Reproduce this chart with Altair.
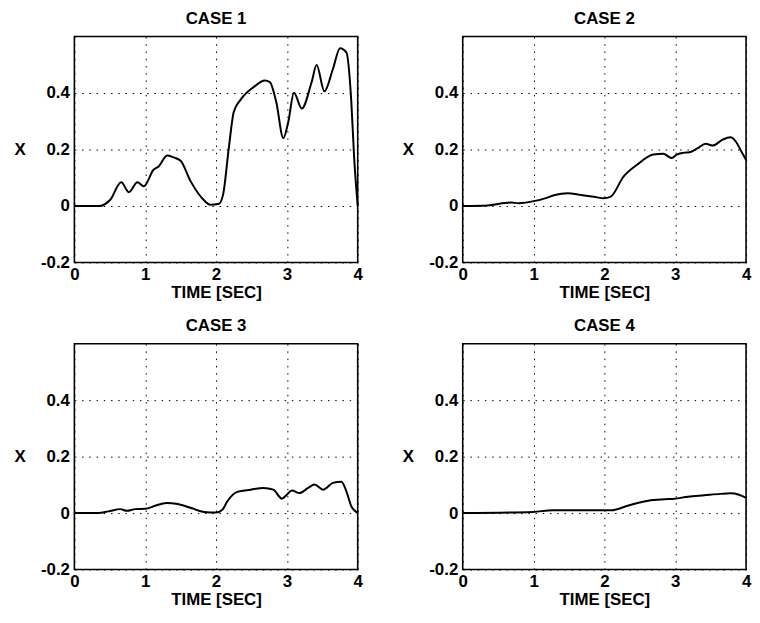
import altair as alt
import pandas as pd

# CASE 1
t1 = [0.0, 0.35, 0.51, 0.66, 0.77, 0.89, 0.98, 1.12, 1.19, 1.31, 1.40, 1.50, 1.64, 1.82, 1.92,
      2.04, 2.10, 2.18, 2.25, 2.34, 2.53, 2.69, 2.76, 2.85, 2.95, 3.02, 3.10, 3.21, 3.35, 3.42,
      3.53, 3.65, 3.75, 3.84, 3.91, 3.95, 4.0]
x1 = [0.0, 0.0, 0.023, 0.084, 0.049, 0.084, 0.07, 0.129, 0.14, 0.179, 0.172, 0.16, 0.088, 0.023, 0.004,
      0.008, 0.041, 0.205, 0.333, 0.374, 0.421, 0.444, 0.439, 0.368, 0.24, 0.298, 0.401, 0.345, 0.439, 0.499,
      0.406, 0.485, 0.559, 0.544, 0.368, 0.17, 0.0]

# CASE 2
t2 = [0.0, 0.35, 0.68, 0.79, 1.02, 1.16, 1.30, 1.48, 1.67, 1.85, 1.99, 2.09, 2.27, 2.46, 2.69,
      2.83, 2.95, 3.02, 3.11, 3.20, 3.32, 3.43, 3.53, 3.67, 3.78, 3.85, 3.94, 4.0]
x2 = [0.0, 0.002, 0.012, 0.01, 0.018, 0.027, 0.039, 0.045, 0.039, 0.033, 0.027, 0.033, 0.104, 0.146, 0.182,
      0.185, 0.17, 0.182, 0.188, 0.19, 0.205, 0.22, 0.214, 0.235, 0.243, 0.23, 0.19, 0.163]

# CASE 3
t3 = [0.0, 0.34, 0.48, 0.65, 0.74, 0.86, 1.0, 1.14, 1.30, 1.46, 1.65, 1.83, 2.0, 2.09, 2.16,
      2.30, 2.49, 2.67, 2.81, 2.93, 3.0, 3.07, 3.18, 3.30, 3.39, 3.51, 3.65, 3.77, 3.84, 3.91, 3.98, 4.0]
x3 = [0.0, 0.0, 0.006, 0.014, 0.008, 0.014, 0.015, 0.026, 0.036, 0.032, 0.018, 0.004, 0.002, 0.012, 0.042,
      0.075, 0.083, 0.089, 0.083, 0.051, 0.065, 0.08, 0.071, 0.089, 0.101, 0.083, 0.107, 0.111, 0.077, 0.024, 0.004, 0.0]

# CASE 4
t4 = [0.0, 0.99, 1.27, 1.59, 2.1, 2.34, 2.62, 2.85, 2.99, 3.18, 3.41, 3.64, 3.78, 3.90, 4.0]
x4 = [0.0, 0.004, 0.01, 0.01, 0.01, 0.027, 0.044, 0.049, 0.051, 0.058, 0.063, 0.068, 0.07, 0.065, 0.054]

titles = ["CASE 1", "CASE 2", "CASE 3", "CASE 4"]
x_ticks = [0, 1, 2, 3, 4]
y_ticks = [-0.2, 0, 0.2, 0.4]

FONT = "Liberation Sans"
W, H = 286, 228


def panel(t, x, title):
    df = pd.DataFrame({"t": t, "x": x})
    return alt.Chart(df).mark_line(color="black", strokeWidth=2, interpolate="monotone").encode(
        x=alt.X("t:Q", scale=alt.Scale(domain=[0, 4], nice=False),
                axis=alt.Axis(values=x_ticks, title="TIME [SEC]", labelFlush=False,
                              labelPadding=4, titlePadding=2)),
        y=alt.Y("x:Q", scale=alt.Scale(domain=[-0.2, 0.6], nice=False, zero=False),
                axis=alt.Axis(values=y_ticks, title="X", labelFlush=False, labelPadding=5,
                              labelExpr="'' + datum.value", titleAngle=0, titlePadding=21,
                              titleBaseline="middle")),
    ).properties(width=W, height=H,
                 title=alt.TitleParams(title, offset=9))


top = alt.hconcat(panel(t1, x1, titles[0]), panel(t2, x2, titles[1]), spacing=38)
bottom = alt.hconcat(panel(t3, x3, titles[2]), panel(t4, x4, titles[3]), spacing=38)

chart = alt.vconcat(top, bottom, spacing=15).properties(
    padding={"left": 5, "top": -2, "right": 0, "bottom": 0}
).configure_view(
    stroke="black", strokeWidth=1.6
).configure_axis(
    grid=True, gridColor="black", gridDash=[1.5, 5.8], gridWidth=1, gridOpacity=1,
    domain=False, ticks=False,
    labelFont=FONT, labelFontSize=17, labelFontWeight="bold", labelColor="black",
    titleFont=FONT, titleFontSize=17, titleFontWeight="bold", titleColor="black",
).configure_title(
    font=FONT, fontSize=17, fontWeight="bold", color="black"
)

chart.save("out.html", embed_options={"renderer": "svg", "actions": False})
